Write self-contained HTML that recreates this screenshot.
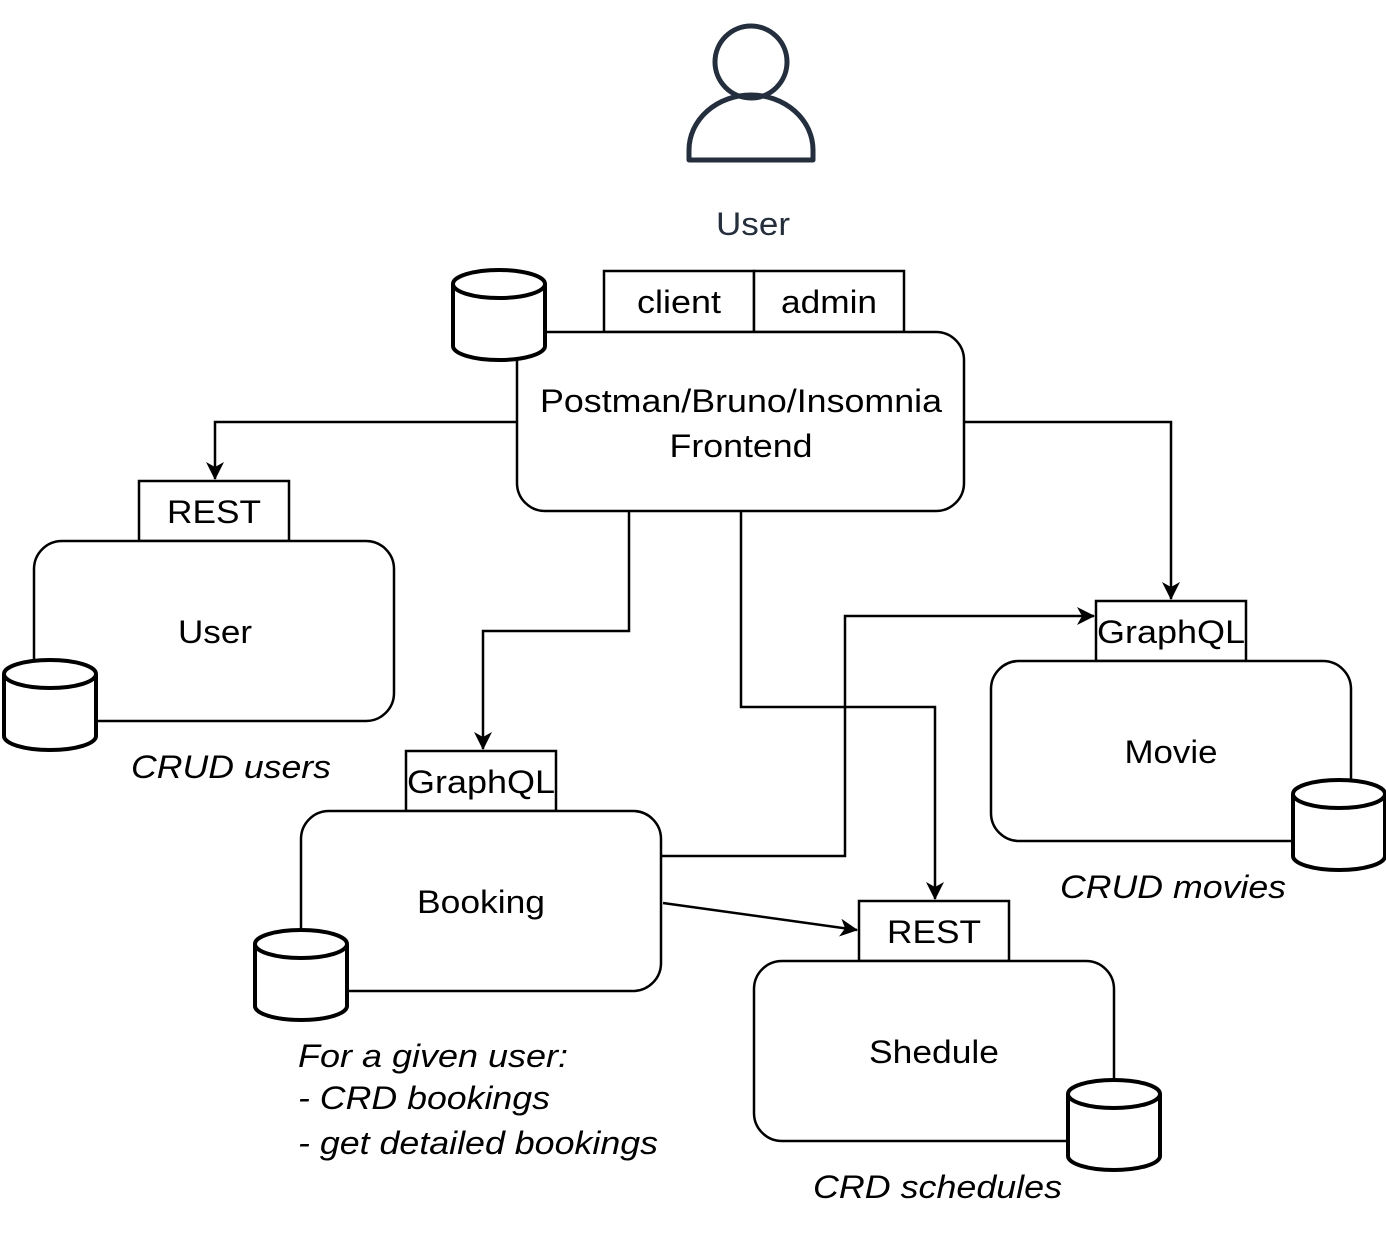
<!DOCTYPE html>
<html><head><meta charset="utf-8"><style>
html,body{margin:0;padding:0;background:#fff;}
svg{display:block;font-family:"Liberation Sans",Arial,sans-serif;}
</style></head><body>
<svg width="1386" height="1233" viewBox="0 0 1386 1233" xmlns="http://www.w3.org/2000/svg">
<defs>
<marker id="a" viewBox="0 0 18 18" refX="17" refY="9" markerWidth="18" markerHeight="18" markerUnits="userSpaceOnUse" orient="auto">
<path d="M0,0 L18,9 L0,18 L5,9 Z" fill="#000"/>
</marker>
<g id="cyl">
<path d="M0,14 A46,14 0 0 1 92,14 L92,76 A46,14 0 0 1 0,76 Z" fill="#fff" stroke="#000" stroke-width="4"/>
<path d="M0,14 A46,14 0 0 0 92,14" fill="none" stroke="#000" stroke-width="4"/>
</g>
</defs>

<circle cx="751" cy="62" r="36" fill="none" stroke="#232f3e" stroke-width="5"/>
<path d="M689,160 L689,150 A62,55 0 0 1 813,150 L813,160 Z" fill="none" stroke="#232f3e" stroke-width="5" stroke-linejoin="round"/>
<text x="753" y="235" font-size="32" fill="#232f3e" text-anchor="middle" textLength="74" lengthAdjust="spacingAndGlyphs">User</text>

<g fill="none" stroke="#000" stroke-width="2.5">
<path d="M517,422 H215 V479" marker-end="url(#a)"/>
<path d="M964,422 H1171 V599" marker-end="url(#a)"/>
<path d="M629,511 V631 H483 V749" marker-end="url(#a)"/>
<path d="M741,511 V707 H935 V899" marker-end="url(#a)"/>
<path d="M661,856 H845 V616 H1094" marker-end="url(#a)"/>
<path d="M663,903 L857,930" marker-end="url(#a)"/>
</g>

<g fill="#fff" stroke="#000" stroke-width="2.5">
<rect x="604" y="271" width="150" height="61"/>
<rect x="754" y="271" width="150" height="61"/>
<rect x="517" y="332" width="447" height="179" rx="28"/>
<rect x="139" y="481" width="150" height="60"/>
<rect x="34" y="541" width="360" height="180" rx="28"/>
<rect x="406" y="751" width="150" height="60"/>
<rect x="301" y="811" width="360" height="180" rx="28"/>
<rect x="1096" y="601" width="150" height="60"/>
<rect x="991" y="661" width="360" height="180" rx="28"/>
<rect x="859" y="901" width="150" height="60"/>
<rect x="754" y="961" width="360" height="180" rx="28"/>
</g>

<use href="#cyl" x="453" y="270"/>
<use href="#cyl" x="4" y="660"/>
<use href="#cyl" x="255" y="930"/>
<use href="#cyl" x="1293" y="780"/>
<use href="#cyl" x="1068" y="1080"/>

<g font-size="32" fill="#000" text-anchor="middle" lengthAdjust="spacingAndGlyphs">
<text x="679" y="313" textLength="84" lengthAdjust="spacingAndGlyphs">client</text>
<text x="829" y="313" textLength="96" lengthAdjust="spacingAndGlyphs">admin</text>
<text x="741" y="412" textLength="402" lengthAdjust="spacingAndGlyphs">Postman/Bruno/Insomnia</text>
<text x="741" y="457" textLength="143" lengthAdjust="spacingAndGlyphs">Frontend</text>
<text x="214" y="523" textLength="94" lengthAdjust="spacingAndGlyphs">REST</text>
<text x="215" y="643" textLength="74" lengthAdjust="spacingAndGlyphs">User</text>
<text x="481" y="793" textLength="148" lengthAdjust="spacingAndGlyphs">GraphQL</text>
<text x="481" y="913" textLength="128" lengthAdjust="spacingAndGlyphs">Booking</text>
<text x="1171" y="643" textLength="148" lengthAdjust="spacingAndGlyphs">GraphQL</text>
<text x="1171" y="763" textLength="93" lengthAdjust="spacingAndGlyphs">Movie</text>
<text x="934" y="943" textLength="94" lengthAdjust="spacingAndGlyphs">REST</text>
<text x="934" y="1063" textLength="130" lengthAdjust="spacingAndGlyphs">Shedule</text>
</g>
<g font-size="32" font-style="italic" fill="#000">
<text x="131" y="778" textLength="200" lengthAdjust="spacingAndGlyphs">CRUD users</text>
<text x="1060" y="898" textLength="226" lengthAdjust="spacingAndGlyphs">CRUD movies</text>
<text x="813" y="1198" textLength="249" lengthAdjust="spacingAndGlyphs">CRD schedules</text>
<text x="298" y="1067" textLength="270" lengthAdjust="spacingAndGlyphs">For a given user:</text>
<text x="298" y="1109" textLength="252" lengthAdjust="spacingAndGlyphs">- CRD bookings</text>
<text x="298" y="1154" textLength="360" lengthAdjust="spacingAndGlyphs">- get detailed bookings</text>
</g>
</svg>
</body></html>
